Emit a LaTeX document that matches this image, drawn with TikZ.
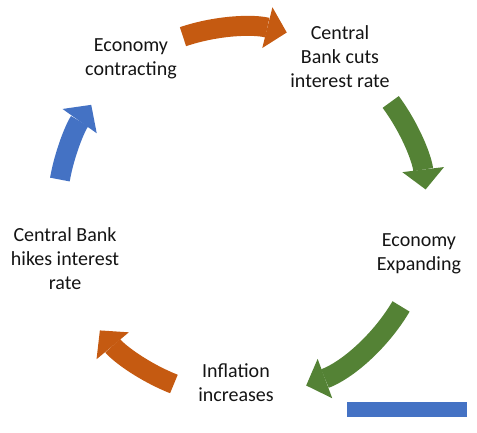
\documentclass[tikz,border=0pt]{standalone}
\usepackage{fontspec}
\setmainfont{Carlito}
\usetikzlibrary{arrows.meta}
\definecolor{CyOrange}{RGB}{197,90,17}
\definecolor{CyGreen}{RGB}{84,130,53}
\definecolor{CyBlue}{RGB}{68,114,196}
\definecolor{CyText}{RGB}{20,20,20}

\begin{document}
\begin{tikzpicture}[x=1pt, y=1pt,
          lbl/.style={align=center, text=CyText, inner sep=0pt,
                      font=\fontsize{20}{24}\selectfont},
          carr/.style={line width=20pt,
                       -{Triangle[length=20pt, width=42pt, line width=0pt]}}
        ]
        \useasboundingbox (0,0) rectangle (477,433);
        \coordinate (ctr) at (242,221);

        % Stages of the cycle
        \node[lbl] (contract) at (131,374) {Economy\\contracting};
        \node[lbl] (cut)      at (340,376) {Central\\Bank cuts\\interest rate};
        \node[lbl] (expand)   at (419,179) {Economy\\Expanding};
        \node[lbl] (infl)     at (236,50)  {Inflation\\increases};
        \node[lbl] (hike)     at (65,174)  {Central Bank\\hikes interest\\rate};

        % Curved arrows round the circle
        \draw[carr, draw=CyOrange] (ctr) ++(108.6:185) arc[start angle=108.6, end angle=76, radius=185];
        \draw[carr, draw=CyGreen]  (ctr) ++(36.5:185)  arc[start angle=36.5, end angle=7, radius=185];
        \draw[carr, draw=CyGreen]  (ctr) ++(-30.7:185) arc[start angle=-30.7, end angle=-69.7, radius=185];
        \draw[carr, draw=CyOrange] (ctr) ++(-111.6:185) arc[start angle=-111.6, end angle=-140.2, radius=185];
        \draw[carr, draw=CyBlue]   (ctr) ++(169.9:185) arc[start angle=169.9, end angle=144.6, radius=185];

        % Watermark
        \fill[CyBlue] (347,16) rectangle (467,31);
      \end{tikzpicture}
\end{document}
